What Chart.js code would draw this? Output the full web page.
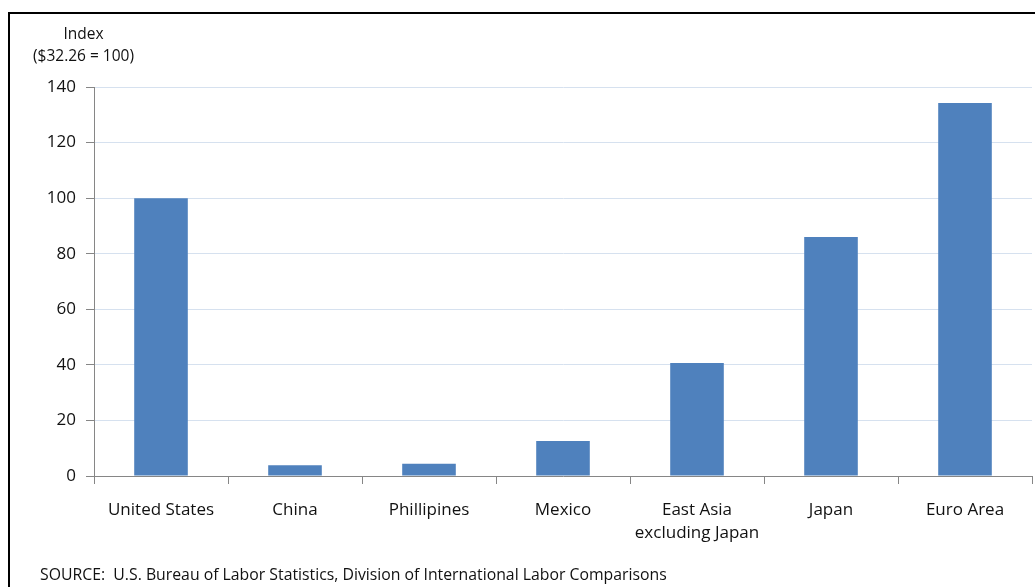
<!DOCTYPE html>
<html>
<head>
<meta charset="utf-8">
<script src="https://cdn.jsdelivr.net/npm/chart.js@4"></script>
<style>
  body { margin: 0; background: #fff; font-family: "Open Sans", sans-serif; color: #111; }
  .frame { position: absolute; left: 8px; top: 12px; width: 1100px; height: 700px;
           border-top: 2px solid #000; border-left: 2px solid #000; }
  .wrap { position: absolute; left: 0; top: 0; width: 1035px; height: 587px; }
  .unit { position: absolute; top: 22px; left: 10px; width: 147px; text-align: center;
          font-size: 15.5px; line-height: 22px; }
  .source { position: absolute; left: 40px; top: 564px; font-size: 15.8px; line-height: 20px; }
</style>
</head>
<body>
<div class="frame"></div>
<div class="wrap"><canvas id="mychart"></canvas></div>
<div class="unit">Index<br>($32.26 = 100)</div>
<div class="source">SOURCE:&nbsp; U.S. Bureau of Labor Statistics, Division of International Labor Comparisons</div>
<script>
// hourly compensation index, manufacturing
const categories = ["United States", "China", "Phillipines", "Mexico",
  ["East Asia", "excluding Japan"], "Japan", "Euro Area"];
const indexValues = [100, 3.9, 4.4, 12.6, 40.7, 86, 134.2];
const yTicks = [0, 20, 40, 60, 80, 100, 120, 140];

var ctx = document.getElementById("mychart").getContext("2d");

var myChart = new Chart(ctx, {
  type: "bar",
  data: {
    labels: categories,
    datasets: [
      {
        data: indexValues,
        backgroundColor: "#4f81bd",
        borderWidth: 0,
        categoryPercentage: 1,
        barPercentage: 0.4,
      },
    ],
  },
  options: {
    responsive: true,
    maintainAspectRatio: false,
    animation: false,
    layout: { padding: { top: 87, right: 3, bottom: 0, left: 0 } },
    plugins: { legend: { display: false }, tooltip: { enabled: false } },
    scales: {
      x: {
        grid: { offset: true, drawOnChartArea: false, color: "#868686", tickLength: 8 },
        border: { color: "#868686" },
        ticks: { color: "#111", padding: 15, maxRotation: 0, autoSkip: false,
                 font: { family: "Open Sans", size: 17, lineHeight: 1.35 } },
        afterFit: (scale) => { scale.height = 111; },
      },
      y: {
        min: 0,
        max: 140,
        afterBuildTicks: (scale) => { scale.ticks = yTicks.map((v) => ({ value: v })); },
        grid: { color: "#d6e1ef", tickColor: "#868686", tickLength: 8 },
        border: { color: "#868686" },
        ticks: { color: "#111", padding: 10, font: { family: "Open Sans", size: 17 } },
        afterFit: (scale) => { scale.width = 94; },
      },
    },
  },
});
</script>
</body>
</html>
